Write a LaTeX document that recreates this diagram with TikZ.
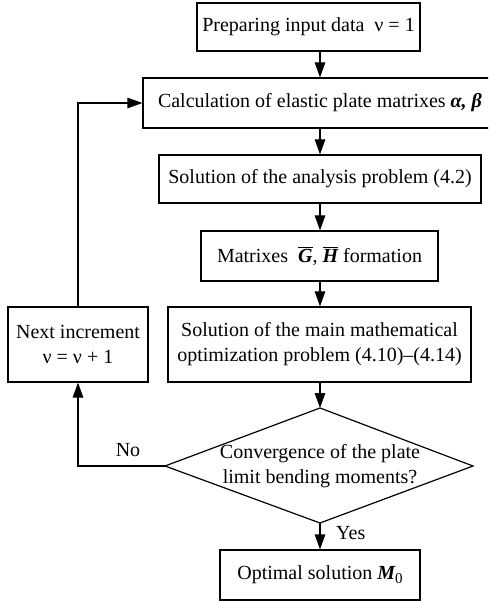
\documentclass[tikz,border=0pt]{standalone}
\usepackage{fontspec}
\setmainfont{Liberation Serif}
\usetikzlibrary{arrows.meta,calc}
\newcommand\bfit[1]{{\bfseries\itshape #1}}
\newcommand\obar[1]{$\overline{\hbox{\bfseries\itshape #1}}$}
\tikzset{
  box/.style={draw, line width=1.2pt, inner sep=0pt, align=center,
    font=\fontsize{20}{25}\selectfont},
  arr/.style={line width=1.2pt, -{Triangle[length=15pt,width=10.5pt]}},
  lbl/.style={inner sep=0pt, font=\fontsize{20}{25}\selectfont},
}
\begin{document}
\begin{tikzpicture}[x=1pt,y=-1pt]
\useasboundingbox (0,0) rectangle (488,601);
\clip (0,0) rectangle (488,601);
\node[box, minimum width=223pt, minimum height=48pt] (b1) at (308.5,27) {Preparing input data\ \ ν = 1};
\node[box, minimum width=354pt, minimum height=50pt] (b2) at (320,103) {Calculation of elastic plate matrixes \bfit{α, β}};
\node[box, minimum width=322pt, minimum height=48pt] (b3) at (320,179) {Solution of the analysis problem (4.2)};
\node[box, minimum width=237pt, minimum height=50pt] (b4) at (319.5,256) {Matrixes\ \ \obar{G}, \obar{H} formation};
\node[box, minimum width=303pt, minimum height=75pt] (b5) at (319.5,344.5) {Solution of the main mathematical\\optimization problem (4.10)–(4.14)};
\node[box, minimum width=140pt, minimum height=75pt] (ni) at (78,344.5) {Next increment\\ν = ν + 1};
\coordinate (dt) at (320,408);
\coordinate (dl) at (165,466);
\coordinate (dr) at (473,466);
\coordinate (db) at (320,523);
\draw[line width=1.2pt, line join=miter] (dt) -- (dr) -- (db) -- (dl) -- cycle;
\node[lbl, align=center] (dtext) at (320,466) {Convergence of the plate\\limit bending moments?};
\node[box, minimum width=200pt, minimum height=50pt] (b6) at (320,575) {Optimal solution \bfit{M}\raisebox{-0.4ex}{\fontsize{15}{15}\selectfont 0}};
\coordinate (fb) at (78,103);
% connectors
\draw[arr] (b1.south -| b2.north) -- (b2.north);
\draw[arr] (b2.south -| b3.north) -- (b3.north);
\draw[arr] (b3.south) -- (b3.south |- b4.north);
\draw[arr] (b4.south -| b3.south) -- (b5.north -| b3.south);
\draw[arr] (b5.south -| dt) -- (dt);
\draw[arr] (db) -- (db |- b6.north);
\draw[arr] (dl) -- (dl -| ni.south) -- (ni.south);
\draw[arr] (ni.north) -- (fb) -- (b2.west);
\node[lbl] (no) at (128,450) {No};
\node[lbl, anchor=west] (yes) at (336,533) {Yes};
\end{tikzpicture}
\end{document}
